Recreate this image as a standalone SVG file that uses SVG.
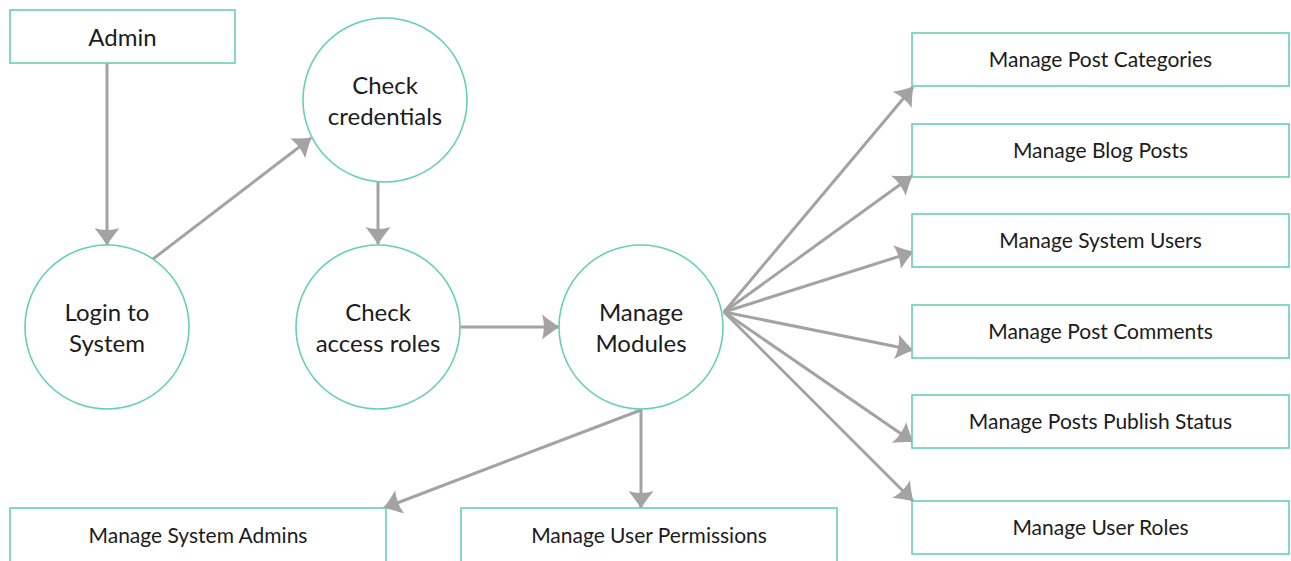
<svg xmlns="http://www.w3.org/2000/svg" width="1291" height="561" viewBox="0 0 1291 561">
  <style>
    .box { fill: #ffffff; stroke: #67cfb2; stroke-width: 1.6; }
    .proc { fill: #ffffff; stroke: #67cfb2; stroke-width: 1.6; }
    .lbl { font-family: Lato, "Liberation Sans", sans-serif; fill: #1c1c1c; text-anchor: middle; }
    .big { font-size: 24px; }
    .small { font-size: 21px; }
    .edge { stroke: #a3a3a3; stroke-width: 3; fill: none; marker-end: url(#head); }
  </style>
  <defs>
    <marker id="head" viewBox="-18 -13 20 26" markerWidth="20" markerHeight="26" refX="0" refY="0" orient="auto" markerUnits="userSpaceOnUse">
      <path d="M1,0 C-5,-3 -11,-8 -17,-12.5 C-14.5,-6 -14.5,6 -17,12.5 C-11,8 -5,3 1,0 Z" fill="#a3a3a3"/>
    </marker>
  </defs>
  <rect width="1291" height="561" fill="#ffffff"/>

  <g id="connectors">
    <line class="edge" x1="107" y1="63" x2="107" y2="245"/>
    <line class="edge" x1="153" y1="259" x2="311" y2="138"/>
    <line class="edge" x1="378" y1="182" x2="378" y2="244"/>
    <line class="edge" x1="460" y1="327" x2="559" y2="327"/>
    <line class="edge" x1="724" y1="312" x2="913" y2="87"/>
    <line class="edge" x1="724" y1="312" x2="912" y2="176"/>
    <line class="edge" x1="724" y1="312" x2="913" y2="252"/>
    <line class="edge" x1="724" y1="312" x2="913" y2="350"/>
    <line class="edge" x1="724" y1="312" x2="913" y2="442"/>
    <line class="edge" x1="724" y1="312" x2="913" y2="501"/>
    <line class="edge" x1="641" y1="409" x2="641" y2="508"/>
    <line class="edge" x1="641" y1="410" x2="384" y2="508"/>
  </g>

  <g id="admin">
    <rect class="box" x="10" y="10" width="225" height="53"/>
    <text class="lbl big" x="122.5" y="46">Admin</text>
  </g>

  <g id="check-credentials">
    <circle class="proc" cx="385" cy="100" r="82"/>
    <text class="lbl big" x="385" y="94">Check</text>
    <text class="lbl big" x="385" y="125">credentials</text>
  </g>

  <g id="login">
    <circle class="proc" cx="107" cy="327" r="82"/>
    <text class="lbl big" x="107" y="321">Login to</text>
    <text class="lbl big" x="107" y="352">System</text>
  </g>

  <g id="check-access-roles">
    <circle class="proc" cx="378" cy="327" r="82"/>
    <text class="lbl big" x="378" y="321">Check</text>
    <text class="lbl big" x="378" y="352">access roles</text>
  </g>

  <g id="manage-modules">
    <circle class="proc" cx="641" cy="327" r="82"/>
    <text class="lbl big" x="641" y="321">Manage</text>
    <text class="lbl big" x="641" y="352">Modules</text>
  </g>

  <g id="post-categories">
    <rect class="box" x="912" y="33" width="377" height="53"/>
    <text class="lbl small" x="1100.5" y="67">Manage Post Categories</text>
  </g>

  <g id="blog-posts">
    <rect class="box" x="912" y="124" width="377" height="53"/>
    <text class="lbl small" x="1100.5" y="158">Manage Blog Posts</text>
  </g>

  <g id="system-users">
    <rect class="box" x="912" y="214" width="377" height="53"/>
    <text class="lbl small" x="1100.5" y="248">Manage System Users</text>
  </g>

  <g id="post-comments">
    <rect class="box" x="912" y="305" width="377" height="53"/>
    <text class="lbl small" x="1100.5" y="339">Manage Post Comments</text>
  </g>

  <g id="publish-status">
    <rect class="box" x="912" y="395" width="377" height="53"/>
    <text class="lbl small" x="1100.5" y="429">Manage Posts Publish Status</text>
  </g>

  <g id="user-roles">
    <rect class="box" x="912" y="501" width="377" height="53"/>
    <text class="lbl small" x="1100.5" y="535">Manage User Roles</text>
  </g>

  <g id="system-admins">
    <rect class="box" x="10" y="508" width="376" height="60"/>
    <text class="lbl small" x="198" y="543">Manage System Admins</text>
  </g>

  <g id="user-permissions">
    <rect class="box" x="461" y="508" width="376" height="60"/>
    <text class="lbl small" x="649" y="543">Manage User Permissions</text>
  </g>
</svg>
